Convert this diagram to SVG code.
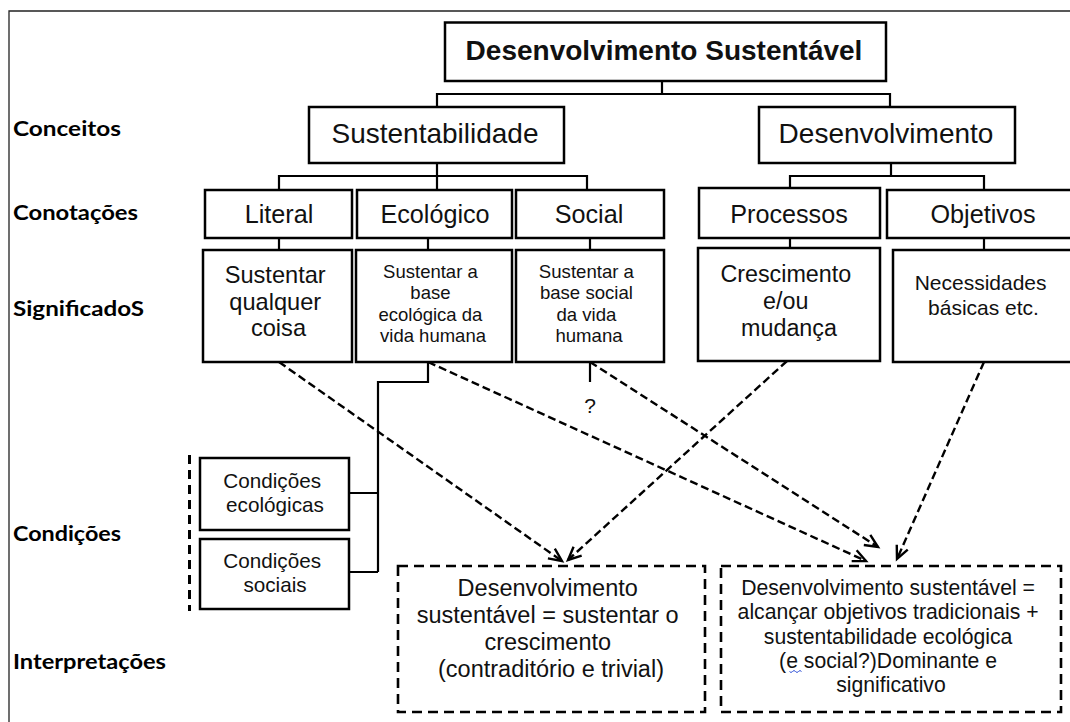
<svg xmlns="http://www.w3.org/2000/svg" width="1070" height="722" viewBox="0 0 1070 722">
  <defs>
    <style>
      .frame { fill: none; stroke: #222; stroke-width: 1.3; }
      .box { fill: #fff; stroke: #000; stroke-width: 2.5; }
      .dbox { fill: #fff; stroke: #000; stroke-width: 2.6; stroke-dasharray: 10 6; }
      .tree { fill: none; stroke: #000; stroke-width: 2.2; }
      .arr { fill: none; stroke: #000; stroke-width: 2.4; stroke-dasharray: 8 4; marker-end: url(#open); }
      .sep { fill: none; stroke: #000; stroke-width: 3; stroke-dasharray: 9 6; }
      .t { font-family: "Liberation Sans", Arial, sans-serif; fill: #111; text-anchor: middle; }
      .lbl { font-family: Lato, "Open Sans", sans-serif; font-weight: 700; font-size: 21px; fill: #000; }
    </style>
    <marker id="open" markerUnits="userSpaceOnUse" markerWidth="18" markerHeight="18" refX="14" refY="8" orient="auto">
      <path d="M1,2 L14,8 L1,14" fill="none" stroke="#000" stroke-width="2.4"/>
    </marker>
  </defs>

  <rect width="1070" height="722" fill="#fff"/>
  <!-- outer frame (top and left edges) -->
  <path class="frame" d="M9,722 V11 H1070"/>

  <!-- row labels -->
  <g id="labels">
    <text class="lbl" x="13" y="136" textLength="108" lengthAdjust="spacingAndGlyphs">Conceitos</text>
    <text class="lbl" x="13" y="220" textLength="125" lengthAdjust="spacingAndGlyphs">Conotações</text>
    <text class="lbl" x="13" y="316" textLength="131" lengthAdjust="spacingAndGlyphs">SignificadoS</text>
    <text class="lbl" x="13" y="541" textLength="108" lengthAdjust="spacingAndGlyphs">Condições</text>
    <text class="lbl" x="13" y="669" textLength="153" lengthAdjust="spacingAndGlyphs">Interpretações</text>
  </g>

  <!-- connectors -->
  <g id="connectors">
    <!-- tree from the title down to the concepts and connotations -->
    <path class="tree" d="M662,81 V94 M437,107 V94 H890 V107"/>
    <path class="tree" d="M437,163 V190 M279,190 V176 H587 V190"/>
    <path class="tree" d="M891,163 V176 M790,188 V176 H984 V190"/>
    <!-- connotations to meanings -->
    <path class="tree" d="M279,238 V250 M428,238 V250 M590,238 V250 M790,238 V248 M984,238 V250"/>
    <!-- ecological meaning to conditions -->
    <path class="tree" d="M428,362 V382 H378 V572 M349,493 H378 M349,572 H378"/>
    <!-- uncertain social link -->
    <path class="tree" stroke-width="2.5" d="M590,362 V382"/>
    <text class="t" x="590" y="413" font-size="21">?</text>
    <!-- dashed separator beside the condition boxes -->
    <path class="sep" d="M189.5,455 V611"/>
    <!-- dashed arrows to the interpretations -->
    <path class="arr" d="M279,362 L562,561"/>
    <path class="arr" d="M787,361 L568,560"/>
    <path class="arr" d="M428,362 L866,561"/>
    <path class="arr" d="M590,362 L878,547"/>
    <path class="arr" d="M984,362 L897,559"/>
  </g>

  <g id="n-title">
    <rect class="box" x="445" y="22.5" width="441" height="58.5"/>
    <text class="t" x="664" y="60" font-size="28" font-weight="700">Desenvolvimento Sustentável</text>
  </g>

  <g id="n-sustentabilidade">
    <rect class="box" x="309" y="107" width="255" height="56"/>
    <text class="t" x="435" y="143" font-size="28">Sustentabilidade</text>
  </g>
  <g id="n-desenvolvimento">
    <rect class="box" x="759" y="107" width="256" height="56"/>
    <text class="t" x="886" y="143" font-size="28">Desenvolvimento</text>
  </g>

  <g id="n-literal">
    <rect class="box" x="205" y="190" width="147" height="48"/>
    <text class="t" x="279" y="222.5" font-size="25.2">Literal</text>
  </g>
  <g id="n-ecologico">
    <rect class="box" x="357" y="190" width="155" height="48"/>
    <text class="t" x="435" y="222.5" font-size="25.2">Ecológico</text>
  </g>
  <g id="n-social">
    <rect class="box" x="516" y="190" width="148" height="48"/>
    <text class="t" x="589" y="222.5" font-size="25.2">Social</text>
  </g>
  <g id="n-processos">
    <rect class="box" x="699" y="188" width="181" height="50"/>
    <text class="t" x="789" y="222.5" font-size="25.2">Processos</text>
  </g>
  <g id="n-objetivos">
    <rect class="box" x="887" y="190" width="192" height="48"/>
    <text class="t" x="983" y="222.5" font-size="25.2">Objetivos</text>
  </g>

  <g id="n-sig-literal">
    <rect class="box" x="203" y="250" width="149" height="112"/>
    <text class="t" font-size="23.6">
      <tspan x="278.5" y="283">Sustentar</tspan>
      <tspan x="278.5" y="309.5">qualquer</tspan>
      <tspan x="278.5" y="336">coisa</tspan>
    </text>
  </g>
  <g id="n-sig-ecologico">
    <rect class="box" x="356" y="250" width="156" height="112"/>
    <text class="t" font-size="18.5">
      <tspan x="433" y="277.5">Sustentar a</tspan>
      <tspan x="433" y="299">base</tspan>
      <tspan x="433" y="320.5">ecológica da</tspan>
      <tspan x="433" y="341.5">vida humana</tspan>
    </text>
  </g>
  <g id="n-sig-social">
    <rect class="box" x="516" y="250" width="148" height="112"/>
    <text class="t" font-size="18.6">
      <tspan x="589" y="277.5">Sustentar a</tspan>
      <tspan x="589" y="299">base social</tspan>
      <tspan x="589" y="320.5">da vida</tspan>
      <tspan x="589" y="341.5">humana</tspan>
    </text>
  </g>
  <g id="n-sig-processos">
    <rect class="box" x="698" y="248" width="182" height="113"/>
    <text class="t" font-size="23.3">
      <tspan x="789" y="281.5">Crescimento</tspan>
      <tspan x="789" y="308.5">e/ou</tspan>
      <tspan x="789" y="335.5">mudança</tspan>
    </text>
  </g>
  <g id="n-sig-objetivos">
    <rect class="box" x="893" y="250" width="185" height="112"/>
    <text class="t" font-size="21">
      <tspan x="983.5" y="290">Necessidades</tspan>
      <tspan x="983.5" y="314.5">básicas etc.</tspan>
    </text>
  </g>

  <g id="n-cond-ecologicas">
    <rect class="box" x="200" y="458" width="149" height="72"/>
    <text class="t" font-size="20.7">
      <tspan x="275" y="487.5">Condições</tspan>
      <tspan x="275" y="511.5">ecológicas</tspan>
    </text>
  </g>
  <g id="n-cond-sociais">
    <rect class="box" x="200" y="539" width="149" height="70"/>
    <text class="t" font-size="20.7">
      <tspan x="275" y="567.5">Condições</tspan>
      <tspan x="275" y="591.5">sociais</tspan>
    </text>
  </g>

  <g id="n-interp-crescimento">
    <rect class="dbox" x="398" y="566" width="307" height="146"/>
    <text class="t" font-size="23.5">
      <tspan x="551" y="595.5">Desenvolvimento</tspan>
      <tspan x="551" y="622.5">sustentável = sustentar o</tspan>
      <tspan x="551" y="649.5">crescimento</tspan>
      <tspan x="551" y="676.5">(contraditório e trivial)</tspan>
    </text>
  </g>
  <g id="n-interp-dominante">
    <rect class="dbox" x="721" y="566" width="340" height="146"/>
    <text class="t" font-size="21.2">
      <tspan x="891" y="594.5">Desenvolvimento sustentável =</tspan>
      <tspan x="891" y="619">alcançar objetivos tradicionais +</tspan>
      <tspan x="891" y="643.5">sustentabilidade ecológica</tspan>
      <tspan x="891" y="668">(e social?)Dominante e</tspan>
      <tspan x="891" y="692">significativo</tspan>
    </text>
    <!-- spell-check squiggle under the "e" -->
    <path d="M789.5,671.5 q1.5,2 3,0 t3,0 t3,0 t3,0" fill="none" stroke="#2d4fd6" stroke-width="1"/>
  </g>
</svg>
